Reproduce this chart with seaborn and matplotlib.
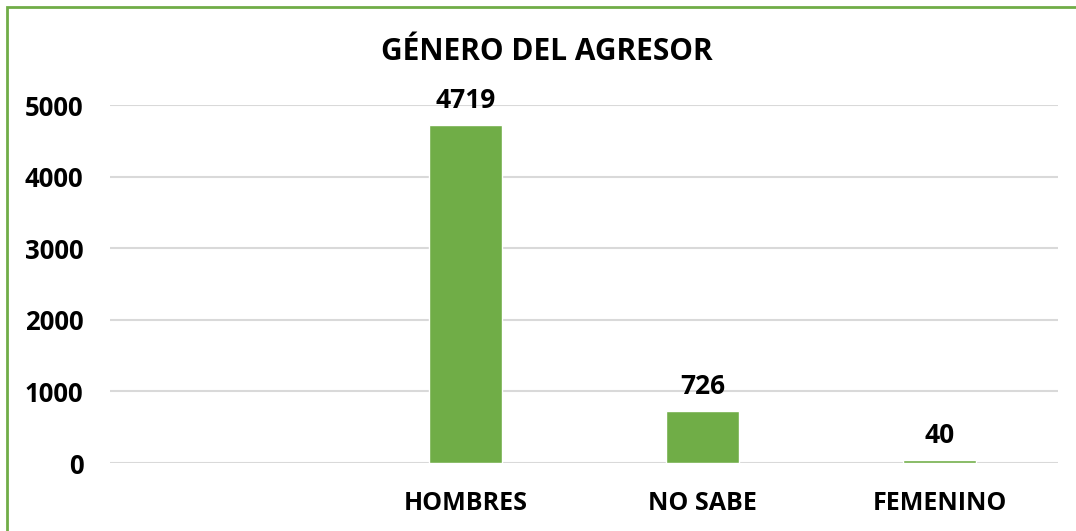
import matplotlib
matplotlib.use("Agg")
import matplotlib.pyplot as plt
import matplotlib.patches as mpatches
import seaborn as sns
import pandas as pd

categories = ["HOMBRES", "NO SABE", "FEMENINO"]
values = [4719, 726, 40]
slots = [""] + categories
yticks = [0, 1000, 2000, 3000, 4000, 5000]
title = "GÉNERO DEL AGRESOR"

sns.set_theme(style="white")
plt.rcParams["font.family"] = ["Open Sans", "DejaVu Sans"]

W, H = 1076, 531
fig = plt.figure(figsize=(W / 100, H / 100), dpi=100)
ax = fig.add_axes([110 / W, 1 - 463 / H, (1058 - 110) / W, (463 - 105) / H])

df = pd.DataFrame({"cat": categories, "val": values})
sns.barplot(data=df, x="cat", y="val", order=slots, color="#70AD47",
            saturation=1, width=0.31, ax=ax, zorder=3)

ax.set_ylim(0, 5000)
ax.set_xlim(-0.5, len(slots) - 0.5)
ax.set_yticks(yticks)
ax.set_yticklabels([str(t) for t in yticks], fontsize=18.5, fontweight="bold", color="black")
for lab in ax.get_xticklabels():
    lab.set_fontsize(18)
    lab.set_fontweight("bold")
    lab.set_color("black")
ax.tick_params(axis="both", length=0)
ax.tick_params(axis="y", pad=19)
ax.tick_params(axis="x", pad=20)
ax.set_xlabel("")
ax.set_ylabel("")
ax.grid(axis="y", color="#D9D9D9", linewidth=1.5, zorder=0)
ax.set_axisbelow(True)
for s in ax.spines.values():
    s.set_visible(False)

for i, v in enumerate(values):
    ax.annotate(str(v), (i + 1, v), xytext=(0, 8), textcoords="offset points",
                ha="center", va="bottom", fontsize=19, fontweight="bold", color="black")

fig.text(547 / W, 1 - 52 / H, title, ha="center", va="center",
         fontsize=21.5, fontweight="bold", color="black")

border = mpatches.Rectangle((7 / W, -0.2), 1.5, 1 - 7 / H + 0.2, transform=fig.transFigure,
                            fill=False, edgecolor="#70AD47", linewidth=2)
fig.patches.append(border)

fig.savefig("out.png", dpi=100)
